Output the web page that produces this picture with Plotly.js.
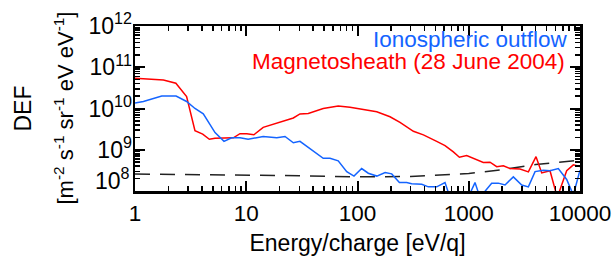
<!DOCTYPE html>
<html><head><meta charset="utf-8">
<script src="https://cdn.plot.ly/plotly-3.0.1.min.js"></script>
<style>html,body{margin:0;padding:0;background:#fff;} #chart{width:615px;height:256px;}</style>
</head><body><div id="chart"></div>
<script>
// Magnetosheath (28 June 2004) - red
const energyMS = [1, 1.46, 1.8, 2.33, 2.91, 3.46, 4.06, 4.66, 5.24, 7.66, 8.78, 10.1, 11.7, 14.2, 16.6, 20.1, 26.5, 30.4, 36.1, 49.2, 67.1, 85.6, 105, 121, 149, 196, 241, 318, 391, 515, 612, 727, 824, 958, 1099, 1352, 1553, 1783, 2047, 2350, 2890, 3435, 4025, 4530, 5375, 6250, 7590, 8710, 10000];
const defMS = [5.4e10, 5.1e10, 4.9e10, 4.1e10, 1.95e10, 2.9e9, 2.4e9, 1.8e9, 1.9e9, 1.95e9, 2.45e9, 2.45e9, 2.3e9, 3.5e9, 4.0e9, 4.8e9, 5.9e9, 7.4e9, 7.6e9, 1.0e10, 1.15e10, 1.07e10, 9.8e9, 9.1e9, 8.3e9, 6.3e9, 4.6e9, 2.8e9, 2.3e9, 1.6e9, 1.26e9, 8.9e8, 6.6e8, 7.2e8, 6.2e8, 4.9e8, 5.0e8, 3.9e8, 4.1e8, 3.5e8, 3.4e8, 2.9e8, 6.8e8, 2.75e8, 3.1e8, 7.0e7, 3.1e8, 4.3e8, 3.9e8];

// Ionospheric outflow - blue
const energyIO = [1, 1.19, 1.74, 2.34, 2.91, 3.46, 4.11, 5.24, 6.31, 7.39, 8.79, 10.4, 14.2, 18.8, 22.3, 26.5, 30.4, 37.4, 49.2, 56.6, 67.1, 80, 93, 109, 125, 149, 177, 203, 238, 277, 307, 378, 433, 515, 612, 678, 990, 1138, 1262, 1607, 1845, 2118, 2516, 2992, 3435, 3944, 4690, 5375, 6383, 7590, 8710, 10000];
const defIO = [1.35e10, 1.48e10, 2.0e10, 2.0e10, 1.48e10, 1.0e10, 7.4e9, 2.6e9, 1.6e9, 1.95e9, 1.95e9, 1.8e9, 2.1e9, 1.95e9, 2.1e9, 1.48e9, 1.6e9, 1.07e9, 6.2e8, 6.2e8, 5.4e8, 2.95e8, 2.3e8, 3.5e8, 2.7e8, 2.3e8, 2.8e8, 2.6e8, 1.6e8, 1.6e8, 1.5e8, 1.45e8, 1.26e8, 1.26e8, 1.6e8, 7e7, 7e7, 1.6e8, 7e7, 1.55e8, 1.55e8, 1.4e8, 2.2e8, 1.4e8, 1.26e8, 2.95e8, 3.2e8, 3.1e8, 3.5e8, 1.9e8, 8e7, 3.2e8];

// Dashed background level
const energyBg = [1, 3, 10, 30, 100, 300, 1000, 2000, 4000, 10000];
const defBg = [2.57e8, 2.5e8, 2.45e8, 2.35e8, 2.2e8, 2.25e8, 2.65e8, 3.3e8, 4.4e8, 5.6e8];

// Tick labels
const xTickVals = [1, 10, 100, 1000, 10000];
const xTickText = ['1', '10', '100', '1000', '10000'];
const yTickVals = [1e8, 1e9, 1e10, 1e11, 1e12];
const yTickText = ['', '10<sup>9</sup>', '10<sup>10</sup>', '10<sup>11</sup>', '10<sup>12</sup>'];

const FONT = 'Liberation Sans, Arial, Helvetica, sans-serif';
const RED = '#ff0000';
const BLUE = '#1464ff';

const traces = [
  {x: energyBg, y: defBg, mode: 'lines', line: {color: '#222', width: 1.5, dash: '15px,10px'}, hoverinfo: 'skip'},
  {x: energyMS, y: defMS, mode: 'lines', line: {color: RED, width: 1.5}},
  {x: energyIO, y: defIO, mode: 'lines', line: {color: BLUE, width: 1.5}}
];

const axisCommon = {
  type: 'log', showgrid: false, zeroline: false,
  showline: true, linecolor: '#000', linewidth: 2.5, mirror: 'allticks',
  ticks: 'inside', ticklen: 10, tickwidth: 2, tickcolor: '#000',
  minor: {ticks: 'inside', ticklen: 5, tickwidth: 1.5, tickcolor: '#000', dtick: 'D1', showgrid: false}
};

const layout = {
  width: 615, height: 256,
  margin: {l: 135, r: 35, t: 26, b: 65},
  paper_bgcolor: '#fff', plot_bgcolor: '#fff',
  showlegend: false,
  font: {family: FONT, color: '#000'},
  xaxis: Object.assign({}, axisCommon, {
    range: [0, 4], tickmode: 'array', tickvals: xTickVals, ticktext: xTickText,
    tickfont: {family: FONT, size: 22.5, color: '#000'},
    title: {text: 'Energy/charge [eV/q]', font: {family: FONT, size: 23, color: '#000'}, standoff: 13}
  }),
  yaxis: Object.assign({}, axisCommon, {
    range: [8, 12], tickmode: 'array', tickvals: yTickVals, ticktext: yTickText,
    tickfont: {family: FONT, size: 23, color: '#000'}, ticklabelstandoff: -4
  }),
  annotations: [
    {text: '10<sup>8</sup>', xref: 'paper', x: 0, xanchor: 'right', xshift: -3, yref: 'y', y: 8.3, yanchor: 'middle', showarrow: false, font: {family: FONT, size: 23, color: '#000'}},
    {text: 'DEF', xref: 'paper', x: 0, xanchor: 'center', xshift: -113, yref: 'paper', y: 0.5, yanchor: 'middle', textangle: -90, showarrow: false, font: {family: FONT, size: 23, color: '#000'}},
    {text: '[m<sup>-2</sup> s<sup>-1</sup> sr<sup>-1</sup> eV eV<sup>-1</sup>]', xref: 'paper', x: 0, xanchor: 'center', xshift: -72, yref: 'paper', y: 0.5, yanchor: 'middle', textangle: -90, showarrow: false, font: {family: FONT, size: 22, color: '#000'}},
    {text: 'Ionospheric outflow', xref: 'paper', x: 1, xanchor: 'right', xshift: -10, yref: 'paper', y: 0.92, yanchor: 'middle', showarrow: false, font: {family: FONT, size: 22.5, color: BLUE}},
    {text: 'Magnetosheath (28 June 2004)', xref: 'paper', x: 1, xanchor: 'right', xshift: -13, yref: 'paper', y: 0.782, yanchor: 'middle', showarrow: false, font: {family: FONT, size: 22.5, color: RED}}
  ]
};

Plotly.newPlot('chart', traces, layout, {staticPlot: true, displayModeBar: false});
</script></body></html>
